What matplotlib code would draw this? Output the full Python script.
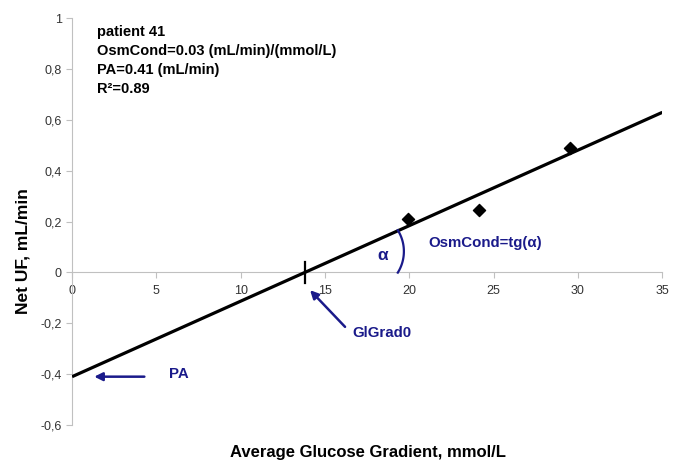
import numpy as np
import matplotlib
matplotlib.use("Agg")
import matplotlib.pyplot as plt

plt.rcParams['font.family'] = ['Liberation Sans', 'DejaVu Sans']

# Data
glucose_gradient = [19.9, 24.1, 29.5]
net_uf = [0.21, 0.245, 0.488]
osm_cond = 0.0297
pa = 0.41
x_ticks = [0, 5, 10, 15, 20, 25, 30, 35]
x_tick_labels = ['0', '5', '10', '15', '20', '25', '30', '35']
y_ticks = [-0.6, -0.4, -0.2, 0, 0.2, 0.4, 0.6, 0.8, 1.0]
y_tick_labels = ['-0,6', '-0,4', '-0,2', '0', '0,2', '0,4', '0,6', '0,8', '1']
info_lines = ['patient 41', 'OsmCond=0.03 (mL/min)/(mmol/L)', 'PA=0.41 (mL/min)', 'R²=0.89']

navy = '#1a1a8a'

fig = plt.figure(figsize=(6.8, 4.72), dpi=100)
ax = fig.add_axes([0.106, 0.0996, 0.868, 0.862])
ax.set_xlim(0, 35)
ax.set_ylim(-0.6, 1.0)

# fit line
xl = np.array([0, 35])
ax.plot(xl, osm_cond * xl - pa, color='black', lw=2.3, zorder=3, solid_capstyle='butt')
ax.scatter(glucose_gradient, net_uf, marker='D', s=38, color='black', zorder=4)

# spines through zero
for s in ['top', 'right']:
    ax.spines[s].set_visible(False)
ax.spines['left'].set_position(('data', 0))
ax.spines['bottom'].set_position(('data', 0))
ax.spines['left'].set_color('#c0c0c0')
ax.spines['bottom'].set_color('#c0c0c0')
ax.tick_params(axis='both', colors='#c0c0c0', labelcolor='#333333', labelsize=9, length=4, direction='out')
ax.tick_params(axis='x', pad=5)
ax.set_xticks(x_ticks)
ax.set_xticklabels(x_tick_labels)
ax.set_yticks(y_ticks)
ax.set_yticklabels(y_tick_labels)

fig.text(0.034, 0.468, 'Net UF, mL/min', fontsize=12.5, fontweight='bold', rotation=90, ha='center', va='center')
fig.text(0.541, 0.042, 'Average Glucose Gradient, mmol/L', fontsize=12, fontweight='bold', ha='center', va='center')

# info text
for i, line in enumerate(info_lines):
    ax.text(1.5, 0.945 - 0.075 * i, line, fontsize=10.5, fontweight='bold', va='center', ha='left')

# intercept tick
x0 = pa / osm_cond
ax.plot([x0, x0], [-0.04, 0.04], color='black', lw=1.6, zorder=4)

# angle arc ")" drawn in pixel space, relative to the intercept
fig.canvas.draw()
trans = ax.transData
cx, cy = trans.transform((x0, 0))
s = fig.dpi / 100
acx, acy = cx + 59 * s, cy + 21 * s
r = 40 * s
t = np.linspace(np.radians(-32), np.radians(32), 40)
pts = np.column_stack([acx + r * np.cos(t), acy + r * np.sin(t)])
dpts = trans.inverted().transform(pts)
ax.plot(dpts[:, 0], dpts[:, 1], color=navy, lw=1.6, zorder=3)

ax.text(18.4, 0.067, 'α', color=navy, fontsize=12.5, fontweight='bold', ha='center', va='center')
ax.text(21.1, 0.114, 'OsmCond=tg(α)', color=navy, fontsize=10.8, fontweight='bold', ha='left', va='center')

ax.annotate('', xy=(14.0, -0.062), xytext=(16.3, -0.222),
            arrowprops=dict(arrowstyle='-|>', color=navy, lw=1.8, mutation_scale=12))
ax.text(16.6, -0.237, 'GlGrad0', color=navy, fontsize=10.8, fontweight='bold', ha='left', va='center')

ax.annotate('', xy=(1.15, -0.41), xytext=(4.45, -0.41),
            arrowprops=dict(arrowstyle='-|>', color=navy, lw=1.8, mutation_scale=12))
ax.text(5.75, -0.398, 'PA', color=navy, fontsize=10.8, fontweight='bold', ha='left', va='center')

fig.savefig('out.png', dpi=100)
